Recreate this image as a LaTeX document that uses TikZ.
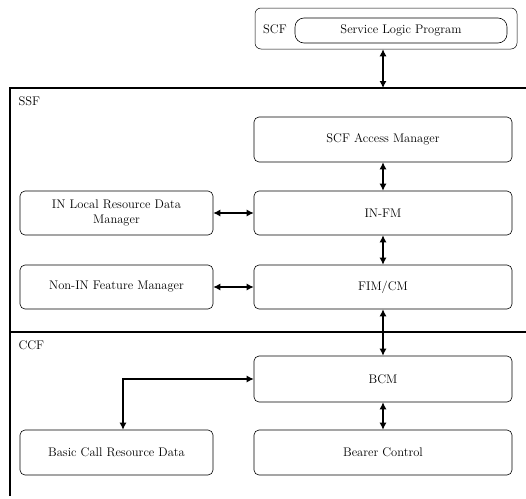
\documentclass[tikz,border=0pt]{standalone}
\usetikzlibrary{arrows.meta}

\begin{document}
\begin{tikzpicture}[x=1pt, y=-1pt, font=\fontsize{12.5}{15}\selectfont,
  block/.style={draw, rounded corners=5pt, line width=0.6pt, align=center,
    minimum width=258pt, minimum height=45pt},
  sidebox/.style={block, minimum width=193pt},
  frame/.style={line width=1.1pt},
  link/.style={{Latex[length=7pt,width=7pt]}-{Latex[length=7pt,width=7pt]}, line width=1.1pt}]
  \useasboundingbox (0,0) rectangle (526,498);
  % SCF on top
  \node[draw, rounded corners=6pt, line width=0.5pt, minimum width=262pt, minimum height=41pt] (scf) at (386,28.5) {};
  \node (scflabel) at (275,29) {SCF};
  \node[draw, rounded corners=9pt, line width=0.6pt, minimum width=212pt, minimum height=25pt] (slp) at (401,30.5) {Service Logic Program};
  % SSF and CCF frames
  \coordinate (ssftop) at (383,88);
  \draw[frame] (526,88) -- (10,88) -- (10,496);
  \draw[frame] (10,332) -- (526,332);
  \node[anchor=west] (ssf) at (15,101) {SSF};
  \node[anchor=west] (ccf) at (15,345) {CCF};
  % function blocks
  \node[block] (sam) at (383,139.5) {SCF Access Manager};
  \node[block, minimum height=44pt] (infm) at (383,213) {IN-FM};
  \node[block, minimum height=44pt] (fimcm) at (383,287) {FIM/CM};
  \node[block, minimum height=46pt] (bcm) at (383,379) {BCM};
  \node[block] (bc) at (383,452.5) {Bearer Control};
  \node[sidebox, minimum height=44pt] (ilrdm) at (116.5,213) {IN Local Resource Data\\Manager};
  \node[sidebox, minimum height=44pt] (nifm) at (116.5,287) {Non-IN Feature Manager};
  \node[sidebox] (bcrd) at (116.5,452.5) {Basic Call Resource Data};
  % connections
  \draw[link] (ssftop |- scf.south) -- (ssftop);
  \draw[link] (sam) -- (infm);
  \draw[link] (infm) -- (fimcm);
  \draw[link] (fimcm) -- (bcm);
  \draw[link] (bcm) -- (bc);
  \draw[link] (ilrdm) -- (infm);
  \draw[link] (nifm) -- (fimcm);
  \draw[link] ([xshift=6.5pt]bcrd.north) |- (bcm.west);
\end{tikzpicture}
\end{document}
